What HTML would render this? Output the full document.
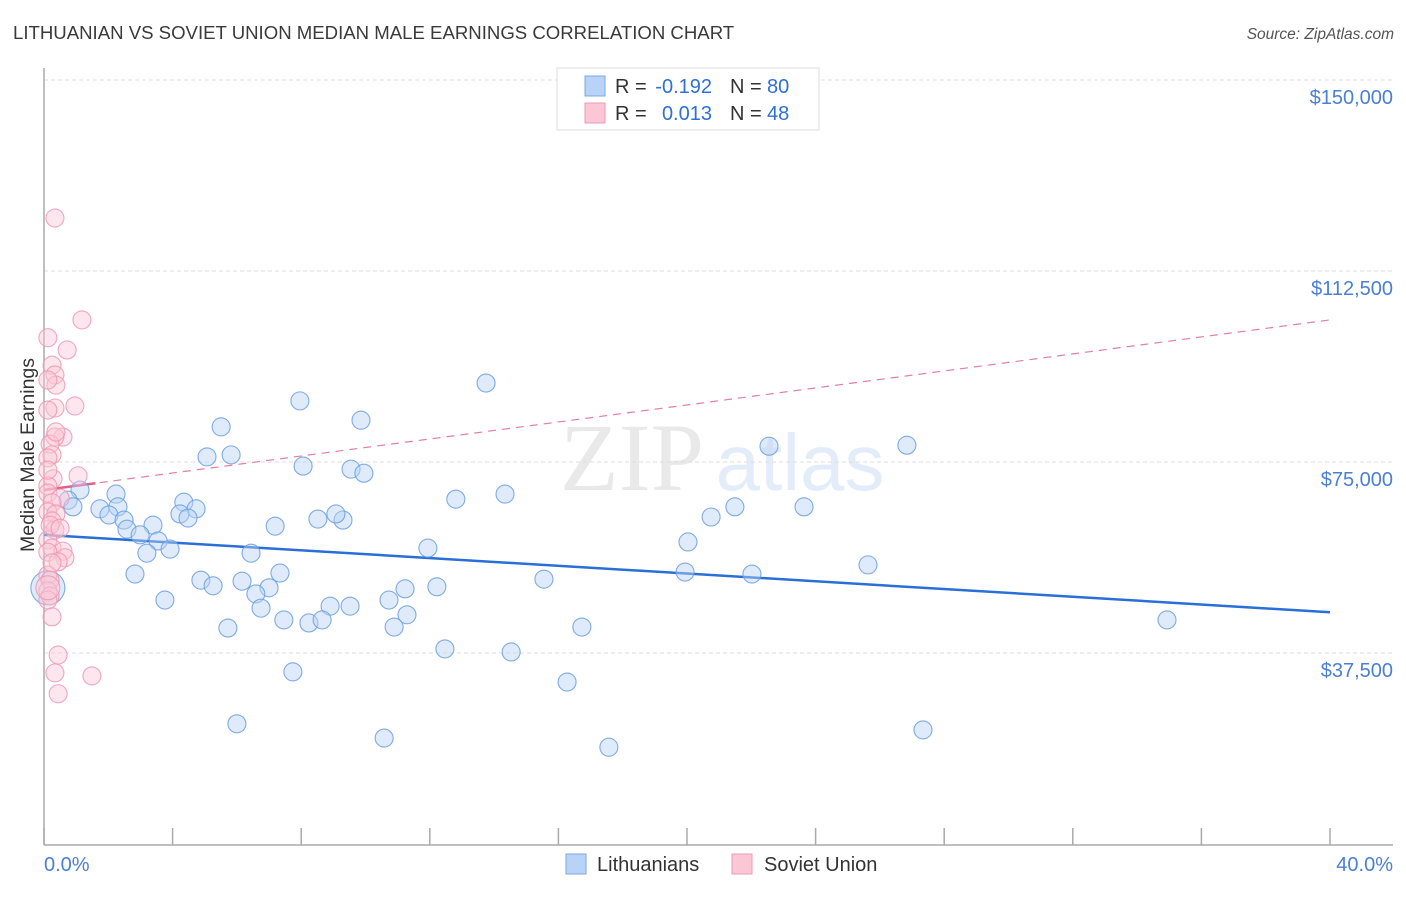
<!DOCTYPE html>
<html><head><meta charset="utf-8"><style>
body{margin:0;background:#fff;width:1406px;height:892px;overflow:hidden;font-family:"Liberation Sans",sans-serif}
</style></head><body>
<svg id="chart" width="1406" height="892" xmlns="http://www.w3.org/2000/svg" font-family="Liberation Sans, sans-serif">
<text x="13" y="39" font-size="18.6" fill="#3a3a3a">LITHUANIAN VS SOVIET UNION MEDIAN MALE EARNINGS CORRELATION CHART</text>
<text x="1394" y="39" font-size="15.5" fill="#555" text-anchor="end" font-style="italic">Source: ZipAtlas.com</text>
<g opacity="0.18">
<text x="632" y="490" font-size="96" font-family="Liberation Serif, serif" fill="#888" text-anchor="middle">ZIP</text>
<text x="800" y="490" font-size="80" fill="#6a9be0" text-anchor="middle">atlas</text>
</g>
<g id="grid"></g>
<g id="axes"></g>
<g id="trends"></g>
<g id="points"></g>
<text transform="translate(34,455) rotate(-90)" font-size="19.5" fill="#333" text-anchor="middle">Median Male Earnings</text>
<text x="44" y="871" font-size="20" fill="#4a7fd6">0.0%</text>
<text x="1393" y="871" font-size="20" fill="#4a7fd6" text-anchor="end">40.0%</text>
<g>
<rect x="557" y="68" width="262" height="62" fill="#fff" stroke="#ddd"/>
<rect x="585" y="76" width="20" height="20" fill="#b8d3f5" stroke="#7aa7e6"/>
<rect x="585" y="103" width="20" height="20" fill="#fbc7d6" stroke="#ee9ab4"/>
<text x="615" y="93" font-size="20" fill="#333">R =</text>
<text x="712" y="93" font-size="20" fill="#2e6fd8" text-anchor="end">-0.192</text>
<text x="730" y="93" font-size="20" fill="#333">N =</text>
<text x="767" y="93" font-size="20" fill="#2e6fd8">80</text>
<text x="615" y="120" font-size="20" fill="#333">R =</text>
<text x="712" y="120" font-size="20" fill="#2e6fd8" text-anchor="end">0.013</text>
<text x="730" y="120" font-size="20" fill="#333">N =</text>
<text x="767" y="120" font-size="20" fill="#2e6fd8">48</text>
</g>
<g>
<rect x="566" y="854" width="20" height="20" fill="#b8d3f5" stroke="#7aa7e6"/>
<text x="597" y="871" font-size="20" fill="#333">Lithuanians</text>
<rect x="732" y="854" width="20" height="20" fill="#fbc7d6" stroke="#ee9ab4"/>
<text x="764" y="871" font-size="20" fill="#333">Soviet Union</text>
</g>
</svg>
<script>
const yTicks=[37500,75000,112500,150000];
const yTickLabels=["$37,500","$75,000","$112,500","$150,000"];
const xTicks=[0,4,8,12,16,20,24,28,32,36,40];
const blueX=[13.75,7.96,5.51,9.86,5.07,5.82,8.06,9.55,9.95,22.55,26.84,1.12,2.24,0.75,4.35,12.81,14.34,4.73,1.74,2.30,0.90,2.02,2.49,4.23,4.48,2.58,3.39,8.52,9.30,9.08,7.19,21.49,23.64,20.75,2.99,3.55,3.20,3.92,6.44,11.94,20.03,2.83,7.34,4.88,6.16,5.26,7.00,6.59,15.55,19.94,22.02,25.63,11.23,12.22,3.76,10.73,8.90,9.52,6.75,11.29,7.46,8.24,8.65,5.72,10.89,16.73,34.93,12.47,14.53,7.74,16.27,6.00,10.58,17.57,27.34];
const blueY=[90.5,87.0,81.9,83.2,76.0,76.4,74.2,73.6,72.8,78.1,78.3,69.5,68.7,67.5,67.1,67.7,68.7,65.8,65.8,66.2,66.2,64.6,63.6,64.8,64.0,61.8,62.6,63.8,63.6,64.8,62.4,66.2,66.2,64.2,60.7,59.5,57.1,57.9,57.1,58.1,59.3,53.0,53.2,51.8,51.6,50.7,50.3,49.1,52.0,53.4,53.0,54.8,50.1,50.5,47.9,47.9,46.7,46.7,46.3,45.0,44.0,43.4,44.0,42.4,42.6,42.6,44.0,38.3,37.7,33.8,31.8,23.6,20.8,19.0,22.4];
const pinkX=[0.34,1.18,0.12,0.72,0.25,0.34,0.37,0.12,0.96,0.34,0.12,0.59,0.34,0.19,0.25,0.12,1.06,0.28,0.12,0.12,0.50,0.25,0.12,0.37,0.25,0.34,0.12,0.25,0.59,0.65,0.12,0.44,0.12,0.19,0.12,0.19,0.25,0.44,0.34,1.49,0.44,0.12,0.25,0.19,0.50,0.12,0.37];
const pinkY=[122.9,102.9,99.4,97.0,94.0,92.1,90.1,91.1,86.0,85.6,85.2,79.9,79.9,78.5,76.4,75.8,72.3,71.7,70.3,68.9,67.9,67.0,65.2,64.8,63.4,61.7,59.7,58.1,57.5,56.2,57.3,55.4,52.8,51.8,49.7,48.7,44.6,37.1,33.6,33.0,29.5,73.4,55.2,62.6,62.0,47.9,80.9];
const bigBlue=[0.12,50.3];
const bigPink=[0.12,50.3];
const blueTrend=[60.7,45.5];
const pinkTrend=[69.5,102.9];

const NS="http://www.w3.org/2000/svg";
const xs=v=>44+v/40*1286;
const ys=v=>844-v*1000/37500*191;
function mk(tag,attrs,parent){const e=document.createElementNS(NS,tag);for(const k in attrs)e.setAttribute(k,attrs[k]);parent.appendChild(e);return e;}
const grid=document.getElementById('grid'),axes=document.getElementById('axes'),trends=document.getElementById('trends'),pts=document.getElementById('points');
yTicks.forEach((t,i)=>{
 const l=mk('line',{x1:44,x2:1393,y1:ys(t/1000),y2:ys(t/1000),stroke:'#ddd','stroke-dasharray':'4,3'},grid);
 
 
 const tx=mk('text',{x:1393,y:ys(t/1000)+24,'font-size':20,fill:'#4a7fd6','text-anchor':'end'},axes);
 tx.textContent=yTickLabels[i];
 
 
});
const ya=mk('line',{x1:44,x2:44,y1:68,y2:845,stroke:'#aaa','stroke-width':1.5},axes);


const xa=mk('line',{x1:44,x2:1393,y1:845,y2:845,stroke:'#aaa','stroke-width':1.5},axes);


xTicks.forEach(t=>{
 const l=mk('line',{x1:xs(t),x2:xs(t),y1:828,y2:845,stroke:'#aaa','stroke-width':1.5},axes);
 
 
});
function dot(x,y,r,fill,stroke,name){
 const c=mk('circle',{cx:xs(x),cy:ys(y),r:r,fill:fill,'fill-opacity':0.45,stroke:stroke,'stroke-width':1.1,'stroke-opacity':0.85},pts);
 
 
}
blueX.forEach((x,i)=>dot(x,blueY[i],9,'#b8d3f5','#6a9ee2','lithuanian-point'));
dot(bigBlue[0],bigBlue[1],17,'#b8d3f5','#6a9ee2','lithuanian-point-large');
pinkX.forEach((x,i)=>dot(x,pinkY[i],9,'#fbc7d6','#ee98b3','soviet-union-point'));
dot(bigPink[0],bigPink[1],12,'#fbc7d6','#ee98b3','soviet-union-point-large');
const bt=mk('line',{x1:xs(0),y1:ys(blueTrend[0]),x2:xs(40),y2:ys(blueTrend[1]),stroke:'#2a6fd6','stroke-width':2.5},trends);


const pt=mk('line',{x1:xs(0),y1:ys(pinkTrend[0]),x2:xs(40),y2:ys(pinkTrend[1]),stroke:'#e0809f','stroke-width':1.2,'stroke-dasharray':'8,6'},trends);


const ps=mk('line',{x1:xs(0),y1:ys(pinkTrend[0]),x2:xs(1.6),y2:ys(pinkTrend[0]+(pinkTrend[1]-pinkTrend[0])*1.6/40),stroke:'#e0608a','stroke-width':2.5},trends);


</script>
</body></html>
